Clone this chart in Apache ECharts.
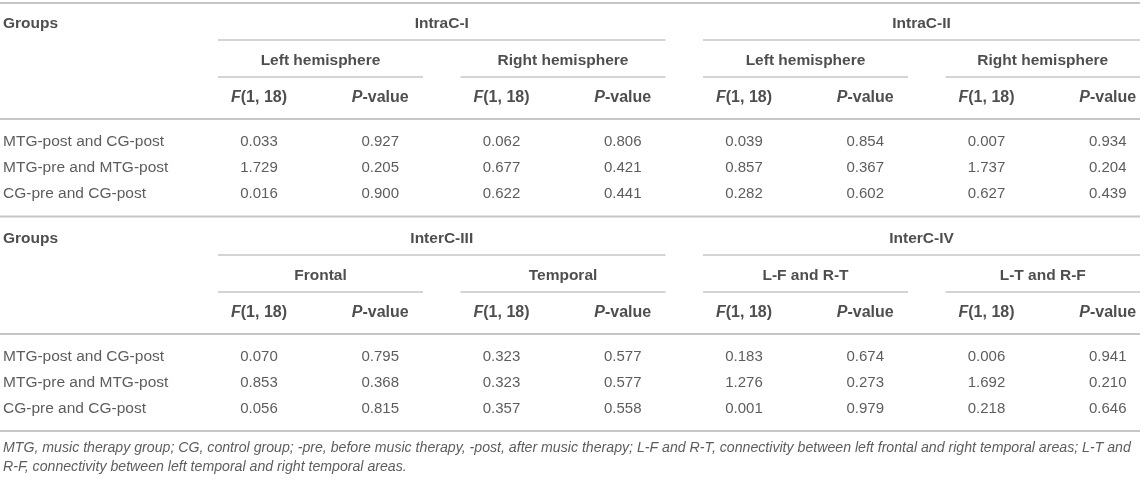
<!DOCTYPE html>
<html lang="en">
<head>
    <meta charset="UTF-8">
    <title>Table</title>
    <style>
        html, body { margin: 0; padding: 0; background: #fff; }
    </style>
</head>
<body>
    <div id="main" style="width:1145px; height:480px;"></div>
    <script src="https://cdn.jsdelivr.net/npm/echarts@6/dist/echarts.min.js"></script>
    <script>
// table content
var rowLabels = ['MTG-post and CG-post', 'MTG-pre and MTG-post', 'CG-pre and CG-post'];
var intraTitles = ['IntraC-I', 'IntraC-II'];
var intraSubTitles = ['Left hemisphere', 'Right hemisphere', 'Left hemisphere', 'Right hemisphere'];
var interTitles = ['InterC-III', 'InterC-IV'];
var interSubTitles = ['Frontal', 'Temporal', 'L-F and R-T', 'L-T and R-F'];
// F(1, 18) and P-value, column pairs left to right
var intraValues = [
    [0.033, 0.927, 0.062, 0.806, 0.039, 0.854, 0.007, 0.934],
    [1.729, 0.205, 0.677, 0.421, 0.857, 0.367, 1.737, 0.204],
    [0.016, 0.900, 0.622, 0.441, 0.282, 0.602, 0.627, 0.439]
];
var interValues = [
    [0.070, 0.795, 0.323, 0.577, 0.183, 0.674, 0.006, 0.941],
    [0.853, 0.368, 0.323, 0.577, 1.276, 0.273, 1.692, 0.210],
    [0.056, 0.815, 0.357, 0.558, 0.001, 0.979, 0.218, 0.646]
];
var footnoteLines = [
    'MTG, music therapy group; CG, control group; -pre, before music therapy, -post, after music therapy; L-F and R-T, connectivity between left frontal and right temporal areas; L-T and',
    'R-F, connectivity between left temporal and right temporal areas.'
];

// layout (page units, same as pixels)
var W = 1145, H = 480;
var tableRight = 1140;
var firstCol = 218;      // left edge of first value column pair
var colW = 121.25;       // width of one value column
var cellOffset = 41;     // text centre inside the column
var pairLine = 205;      // underline length under a pair
var labelX = 3;
var sectionShift = 215.5;
// y positions inside one section
var yTitle = 24, ySubLine1 = 40, ySub = 61, ySubLine2 = 77, yHead = 98, yHeavy = 119;
var yRows = [142, 168, 194];
var yTop = 3, yBottom = 431, yFoot = [448, 467];

var lineColor = '#c6c6c6';
var textColor = '#333';
var font = 'Liberation Sans';

var texts = [];    // [x, y, text, kind]
var rules = [];    // [x1, x2, y, width]

function colCenter(j) { return firstCol + cellOffset + colW * j; }
function pairStart(k) { return firstCol + 2 * colW * k; }
function pairEnd(k) { return Math.min(pairStart(k) + pairLine, tableRight); }

function addSection(dy, titles, subTitles, values) {
    texts.push([labelX, yTitle + dy, 'Groups', 'headLeft']);
    for (var t = 0; t < 2; t++) {
        var x1 = pairStart(2 * t), x2 = pairEnd(2 * t + 1);
        texts.push([(x1 + x2) / 2, yTitle + dy, titles[t], 'head']);
        rules.push([x1, x2, ySubLine1 + dy, 1.3]);
    }
    for (var k = 0; k < 4; k++) {
        var s = pairStart(k), e = pairEnd(k);
        texts.push([(s + e) / 2, ySub + dy, subTitles[k], 'head']);
        rules.push([s, e, ySubLine2 + dy, 1.3]);
        texts.push([colCenter(2 * k), yHead + dy, '{i|F}{b|(1, 18)}', 'rich']);
        texts.push([colCenter(2 * k + 1), yHead + dy, '{i|P}{b|-value}', 'rich']);
    }
    rules.push([0, tableRight, yHeavy + dy, 2]);
    for (var r = 0; r < rowLabels.length; r++) {
        texts.push([labelX, yRows[r] + dy, rowLabels[r], 'left']);
        for (var j = 0; j < values[r].length; j++) {
            texts.push([colCenter(j), yRows[r] + dy, values[r][j].toFixed(3), 'cell']);
        }
    }
}

rules.push([0, tableRight, yTop, 2]);
addSection(0, intraTitles, intraSubTitles, intraValues);
rules.push([0, tableRight, yTop + sectionShift - 2, 2]);
addSection(sectionShift - 0.5, interTitles, interSubTitles, interValues);
rules.push([0, tableRight, yBottom, 2]);
for (var f = 0; f < footnoteLines.length; f++) {
    texts.push([labelX, yFoot[f], footnoteLines[f], 'foot']);
}

var styles = {
    head: { fontWeight: 'bold', fontSize: 15.5, color: '#222', align: 'center' },
    headLeft: { fontWeight: 'bold', fontSize: 15.5, color: '#222', align: 'left' },
    left: { fontSize: 15.5, color: textColor, align: 'left' },
    cell: { fontSize: 15, color: textColor, align: 'center' },
    rich: { fontSize: 16, color: '#222', align: 'center' },
    foot: { fontSize: 14.15, fontStyle: 'italic', color: textColor, align: 'left' }
};

var textData = texts.map(function (d) {
    var st = styles[d[3]];
    return {
        value: [d[0], d[1]],
        name: d[2],
        label: {
            show: true,
            position: 'inside',
            formatter: d[2],
            align: st.align,
            verticalAlign: 'middle',
            fontSize: st.fontSize,
            fontWeight: st.fontWeight || 'normal',
            fontStyle: st.fontStyle || 'normal',
            color: st.color,
            fontFamily: font
        }
    };
});

var myChart = echarts.init(document.getElementById('main'));
myChart.setOption({
    animation: false,
    backgroundColor: '#fff',
    grid: { left: 0, right: 0, top: 0, bottom: 0 },
    xAxis: { type: 'value', min: 0, max: W, show: false },
    yAxis: { type: 'value', min: 0, max: H, inverse: true, show: false },
    series: [
        {
            type: 'custom',
            coordinateSystem: 'cartesian2d',
            encode: { x: [0, 1], y: 2 },
            renderItem: function (params, api) {
                var a = api.coord([api.value(0), api.value(2)]);
                var b = api.coord([api.value(1), api.value(2)]);
                return {
                    type: 'line',
                    shape: { x1: a[0], y1: a[1], x2: b[0], y2: b[1] },
                    style: { stroke: lineColor, lineWidth: api.value(3) }
                };
            },
            data: rules,
            silent: true
        },
        {
            type: 'scatter',
            symbolSize: 0,
            silent: true,
            label: {
                rich: {
                    i: { fontStyle: 'italic', fontWeight: 'bold', fontSize: 16, color: '#222', fontFamily: font },
                    b: { fontWeight: 'bold', fontSize: 16, color: '#222', fontFamily: font }
                }
            },
            data: textData
        }
    ]
});
window.onresize = myChart.resize;
    </script>
</body>
</html>
